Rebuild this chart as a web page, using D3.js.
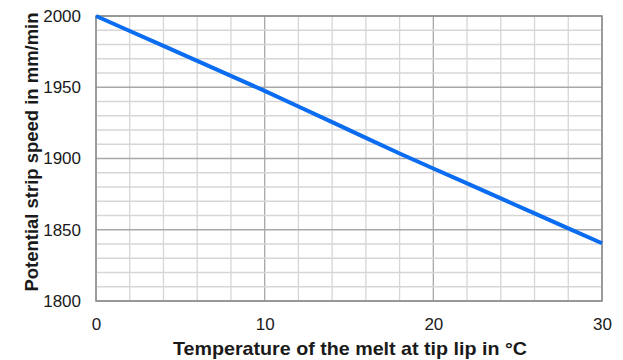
<!DOCTYPE html>
<html><head><meta charset="utf-8">
<script src="https://cdn.jsdelivr.net/npm/d3@7"></script>
<style>html,body{margin:0;padding:0;background:#fff;}svg{display:block;}</style>
</head><body>
<svg id="c" width="623" height="360"></svg>
<script>
const temperatures = [0, 2, 4, 6, 8, 10, 12, 14, 16, 18, 20, 22, 24, 26, 28, 30];
const speeds = [2000, 1989.5, 1979, 1968.5, 1958, 1947.5, 1936.5, 1925.5, 1914.5, 1903.5, 1893, 1882.5, 1872, 1861.5, 1851, 1840.5];
const xTicks = [0, 10, 20, 30];
const yTicks = [1800, 1850, 1900, 1950, 2000];
const xMinorTicks = d3.range(0, 31, 2);
const yMinorTicks = d3.range(1800, 2001, 10);
const xTitle = "Temperature of the melt at tip lip in °C";
const yTitle = "Potential strip speed in mm/min";

const svg = d3.select("#c");
const m = {left: 96, right: 602, top: 16, bottom: 301};
const x = d3.scaleLinear().domain([0, 30]).range([m.left, m.right]);
const y = d3.scaleLinear().domain([1800, 2000]).range([m.bottom, m.top]);

const font = "'Liberation Sans', Arial, sans-serif";

// grid
svg.append("g").selectAll("line").data(xMinorTicks).join("line")
  .attr("x1", d => x(d)).attr("x2", d => x(d)).attr("y1", m.top).attr("y2", m.bottom)
  .attr("stroke", d => xTicks.includes(d) ? "#a8a8a8" : "#d6d6d6").attr("stroke-width", 1.3);
svg.append("g").selectAll("line").data(yMinorTicks).join("line")
  .attr("y1", d => y(d)).attr("y2", d => y(d)).attr("x1", m.left).attr("x2", m.right)
  .attr("stroke", d => yTicks.includes(d) ? "#a8a8a8" : "#d6d6d6").attr("stroke-width", 1.3);

// frame
svg.append("rect").attr("x", m.left).attr("y", m.top)
  .attr("width", m.right - m.left).attr("height", m.bottom - m.top)
  .attr("fill", "none").attr("stroke", "#8c8c8c").attr("stroke-width", 1.5);

// axes (labels only)
const xAxis = svg.append("g").attr("transform", `translate(0,${m.bottom})`)
  .call(d3.axisBottom(x).tickValues(xTicks).tickSize(0).tickPadding(17).tickFormat(d3.format("d")));
xAxis.select(".domain").remove();
xAxis.selectAll("text").attr("font-family", font).attr("font-size", 17).attr("fill", "#1a1a1a");

const yAxis = svg.append("g").attr("transform", `translate(${m.left},0)`)
  .call(d3.axisLeft(y).tickValues(yTicks).tickSize(0).tickPadding(15).tickFormat(d3.format("d")));
yAxis.select(".domain").remove();
yAxis.selectAll("text").attr("font-family", font).attr("font-size", 17).attr("fill", "#1a1a1a");

// line
svg.append("path").datum(temperatures.map((t, i) => [t, speeds[i]]))
  .attr("fill", "none").attr("stroke", "#0a6cf0").attr("stroke-width", 4)
  .attr("stroke-linecap", "butt")
  .attr("d", d3.line().x(d => x(d[0])).y(d => y(d[1])));

// titles
svg.append("text").attr("x", 350).attr("y", 355).attr("text-anchor", "middle")
  .attr("font-family", font).attr("font-weight", "bold").attr("font-size", 18.5)
  .attr("textLength", 354).attr("lengthAdjust", "spacingAndGlyphs")
  .attr("fill", "#1a1a1a").text(xTitle);
svg.append("text").attr("transform", "translate(38,152) rotate(-90)").attr("text-anchor", "middle")
  .attr("font-family", font).attr("font-weight", "bold").attr("font-size", 18.5)
  .attr("textLength", 279).attr("lengthAdjust", "spacingAndGlyphs")
  .attr("fill", "#1a1a1a").text(yTitle);
</script>
</body></html>
